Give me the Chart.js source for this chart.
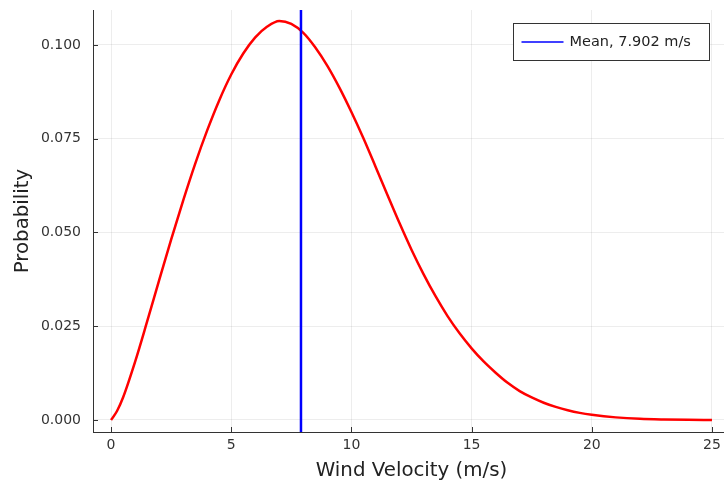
<!DOCTYPE html>
<html>
<head>
<meta charset="utf-8">
<script src="https://cdn.jsdelivr.net/npm/chart.js@4.4.1/dist/chart.umd.min.js"></script>
<style>
  html, body { margin: 0; padding: 0; background: #fff; overflow: hidden; }
</style>
</head>
<body>
<!-- plot frame runs a few px past the right edge of the window, as in the original -->
<canvas id="myChart" width="730" height="484"></canvas>
<script>
// wind speed (m/s) and the density
const windSpeed = [0, 0.25, 0.5, 1, 1.5, 2, 2.5, 3, 3.5, 4, 4.5, 5, 5.5, 6, 6.5, 7, 7.5, 8, 8.5, 9, 9.5,
    10, 10.5, 11, 11.5, 12, 12.5, 13, 13.5, 14, 14.5, 15, 15.5, 16, 16.5, 17, 17.5, 18, 18.5, 19, 19.5,
    20, 21, 22, 23, 24, 25];
const probability = [0, 0.0024, 0.006, 0.0155, 0.0262, 0.0372, 0.0481, 0.0585, 0.0683, 0.0772, 0.0852, 0.0921, 0.0977, 0.102, 0.1049, 0.1064, 0.1056, 0.1032, 0.0993, 0.0944, 0.0886,
    0.0821, 0.0751, 0.0676, 0.06, 0.0525, 0.0454, 0.0389, 0.033, 0.0277, 0.0231, 0.0191, 0.0156, 0.0126, 0.0099, 0.0077, 0.006, 0.0046, 0.0035, 0.0026, 0.0019,
    0.0014, 0.0007, 0.0003, 0.00013, 0.00005, 0.00002];
const meanSpeed = 7.902;
const meanLabel = 'Mean, 7.902 m/s';

const xTicks = [0, 5, 10, 15, 20, 25];
const yTicks = [0, 0.025, 0.05, 0.075, 0.1];
const xRange = [-0.75, 25.75];
const yRange = [-0.0032, 0.1093];

const FONT = 'DejaVu Sans';

// Plots-style ticks pointing into the plot, plus the boxed legend
const plotsExtras = {
    id: 'plotsExtras',
    afterDraw(chart) {
        const ctx = chart.ctx;
        const a = chart.chartArea;
        const xs = chart.scales.x, ys = chart.scales.y;
        ctx.save();
        ctx.strokeStyle = '#333';
        ctx.lineWidth = 1;
        ctx.beginPath();
        xTicks.forEach(v => {
            const p = Math.round(xs.getPixelForValue(v)) + 0.5;
            ctx.moveTo(p, a.bottom);
            ctx.lineTo(p, a.bottom - 5);
        });
        yTicks.forEach(v => {
            const p = Math.round(ys.getPixelForValue(v)) + 0.5;
            ctx.moveTo(a.left, p);
            ctx.lineTo(a.left + 5, p);
        });
        ctx.stroke();

        // legend
        const items = chart.data.datasets.filter(d => d.label);
        ctx.font = '14.5px ' + FONT;
        let w = 0;
        items.forEach(d => { w = Math.max(w, ctx.measureText(d.label).width); });
        const boxW = Math.round(56 + w + 19);
        const boxH = 37;
        const bx = 709 - boxW + 0.5;
        const by = 23.5;
        ctx.fillStyle = '#fff';
        ctx.fillRect(bx, by, boxW, boxH * items.length);
        ctx.strokeStyle = '#333';
        ctx.strokeRect(bx, by, boxW, boxH * items.length);
        items.forEach((d, i) => {
            const cy = by + boxH / 2 + i * boxH;
            ctx.strokeStyle = d.borderColor;
            ctx.lineWidth = 1.5;
            ctx.beginPath();
            ctx.moveTo(bx + 8, cy);
            ctx.lineTo(bx + 50, cy);
            ctx.stroke();
            ctx.fillStyle = '#222';
            ctx.textBaseline = 'middle';
            ctx.textAlign = 'left';
            ctx.fillText(d.label, bx + 56, cy);
        });
        ctx.restore();
    }
};

const ctx = document.getElementById('myChart').getContext('2d');
const myChart = new Chart(ctx, {
    type: 'line',
    data: {
        datasets: [
            {
                label: meanLabel,
                data: [{ x: meanSpeed, y: yRange[0] }, { x: meanSpeed, y: yRange[1] }],
                borderColor: '#0000ff',
                borderWidth: 2.5,
                pointRadius: 0,
                order: 0
            },
            {
                label: '',
                data: windSpeed.map((v, i) => ({ x: v, y: probability[i] })),
                borderColor: '#ff0000',
                borderWidth: 2.5,
                pointRadius: 0,
                cubicInterpolationMode: 'monotone',
                order: 1
            }
        ]
    },
    options: {
        responsive: false,
        animation: false,
        devicePixelRatio: 1,
        layout: { padding: { top: 10, left: 0, right: 0, bottom: 0 } },
        plugins: {
            legend: { display: false },
            tooltip: { enabled: false }
        },
        scales: {
            x: {
                type: 'linear',
                min: xRange[0],
                max: xRange[1],
                afterBuildTicks: s => { s.ticks = xTicks.map(v => ({ value: v })); },
                afterFit: s => { s.height = 52; s.paddingLeft = 0; s.paddingRight = 0; },
                ticks: {
                    font: { family: FONT, size: 14 },
                    color: '#333',
                    padding: 5,
                    maxRotation: 0,
                    callback: v => String(v)
                },
                grid: { color: 'rgba(0,0,0,0.07)', drawTicks: false },
                border: { color: '#333', width: 1 },
                title: {
                    display: true,
                    text: 'Wind Velocity (m/s)',
                    font: { family: FONT, size: 19.8, lineHeight: 1.2 },
                    color: '#222',
                    padding: { top: 0, bottom: 1.5 }
                }
            },
            y: {
                type: 'linear',
                min: yRange[0],
                max: yRange[1],
                afterBuildTicks: s => { s.ticks = yTicks.map(v => ({ value: v })); },
                afterFit: s => { s.width = 93; s.paddingTop = 0; s.paddingBottom = 0; },
                ticks: {
                    font: { family: FONT, size: 14 },
                    color: '#333',
                    padding: 12,
                    callback: v => v.toFixed(3)
                },
                grid: { color: 'rgba(0,0,0,0.07)', drawTicks: false },
                border: { color: '#333', width: 1 },
                title: {
                    display: true,
                    text: 'Probability',
                    font: { family: FONT, size: 19.8, lineHeight: 1.2 },
                    color: '#222',
                    padding: { top: 11, bottom: 0 }
                }
            }
        }
    },
    plugins: [plotsExtras]
});
</script>
</body>
</html>
